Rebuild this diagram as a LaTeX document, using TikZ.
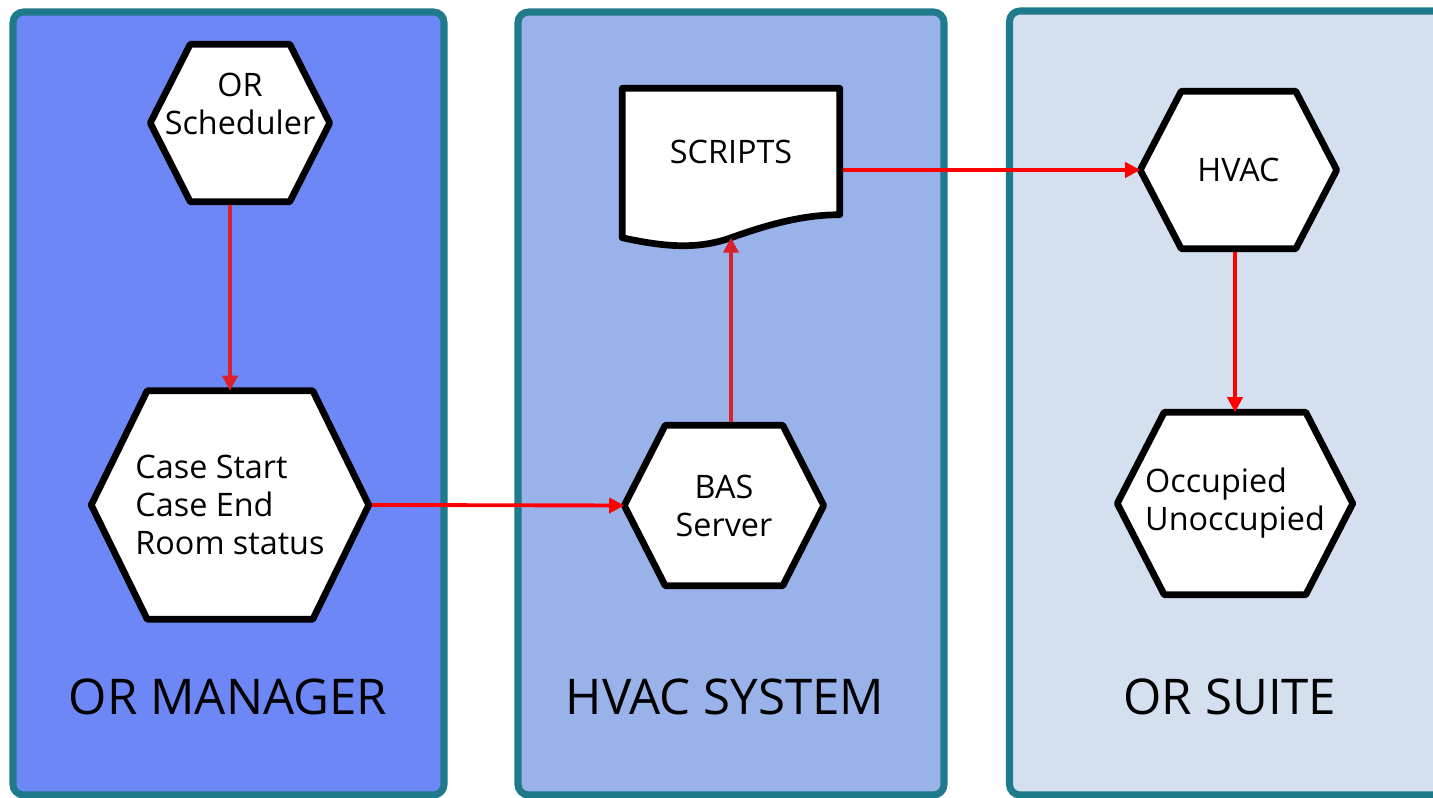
\documentclass[tikz,border=0pt]{standalone}
\usepackage{fontspec}
\setmainfont{Open Sans}
\usetikzlibrary{arrows.meta,calc}
\definecolor{carrilA}{HTML}{6D88F6}
\definecolor{carrilB}{HTML}{9AB2EA}
\definecolor{carrilC}{HTML}{D4E0F0}
\definecolor{borde}{HTML}{1F7A8C}
\definecolor{rojo}{HTML}{FF0000}
\definecolor{grana}{HTML}{DA1F2D}
\pgfdeclarelayer{fondo}
\pgfdeclarelayer{formas}
\pgfsetlayers{fondo,formas,main}

\begin{document}
\begin{tikzpicture}[x=0.01cm, y=-0.01cm,
      carril/.style={draw=borde, line width=2pt, rounded corners=3pt},
      hexa/.style={rectangle, inner sep=0pt, font=\fontsize{9.2}{10.8}\selectfont},
      forma/.style={draw=black, fill=white, line width=1.9pt, line join=round},
      titulo/.style={font=\fontsize{14}{16}\selectfont},
      flecha/.style={-{Triangle[length=0.15cm,width=0.15cm]}, draw=rojo,
                     line width=1.1pt, shorten <=0.9pt},
      flechaosc/.style={flecha, draw=grana}]

    \useasboundingbox (0,0) rectangle (1433,798);

    % carriles de fondo
    \begin{pgfonlayer}{fondo}
      \draw[carril, fill=carrilA] (13,12) rectangle (444,795);
      \draw[carril, fill=carrilB] (518,12) rectangle (944,795);
      \draw[carril, fill=carrilC] (1009.5,11) rectangle (1450,795);
    \end{pgfonlayer}

    \node[hexa, minimum width=1.78cm, minimum height=1.56cm, align=center] (sched) at (240,123) {OR\\Scheduler\\~};
    \node[hexa, minimum width=2.76cm, minimum height=2.27cm, align=left] (case) at (230,505) {Case Start\\Case End\\Room status};
    \node[hexa, minimum width=1.98cm, minimum height=1.59cm, align=center] (bas) at (724,505.5) {BAS\\Server};
    \node[hexa, minimum width=2.16cm, minimum height=1.25cm] (scripts) at (731,151.5) {SCRIPTS};
    \node[hexa, minimum width=1.95cm, minimum height=1.56cm] (hvac) at (1238.5,170) {HVAC};
    \node[hexa, minimum width=2.34cm, minimum height=1.81cm, align=left] (occ) at (1235,503.5) {Occupied\\Unoccupied};
    \coordinate (onda) at ($(scripts.south)+(0,23)$);

    \node[titulo] (tman) at (228,697) {OR MANAGER};
    \node[titulo] (tsis) at (725,697) {HVAC SYSTEM};
    \node[titulo] (tsuite) at (1230,697) {OR SUITE};

    % hexagonos y documento bajo el texto
    \begin{pgfonlayer}{formas}
      \foreach \n/\c in {sched/40, case/56, bas/41, hvac/41, occ/47}
        \draw[forma] (\n.west) -- ($(\n.north west)+(\c,0)$) -- ($(\n.north east)-(\c,0)$)
          -- (\n.east) -- ($(\n.south east)-(\c,0)$) -- ($(\n.south west)+(\c,0)$) -- cycle;
      \draw[forma] (scripts.north west) -- (scripts.north east) -- (scripts.south east)
        .. controls +(-39,0) and +(34,-12) .. (onda)
        .. controls +(-36,13) and +(37,8) .. ($(scripts.south west)+(0,23)$) -- cycle;
    \end{pgfonlayer}

    \draw[flechaosc] (sched.south -| case.north) -- (case.north);
    \draw[flecha] (case.east) -- (bas.west);
    \draw[flechaosc] (scripts.south |- bas.north) -- (onda);
    \draw[flecha] (hvac.west -| scripts.east) -- (hvac.west);
    \draw[flecha] (hvac.south -| occ.north) -- (occ.north);
  \end{tikzpicture}
\end{document}
